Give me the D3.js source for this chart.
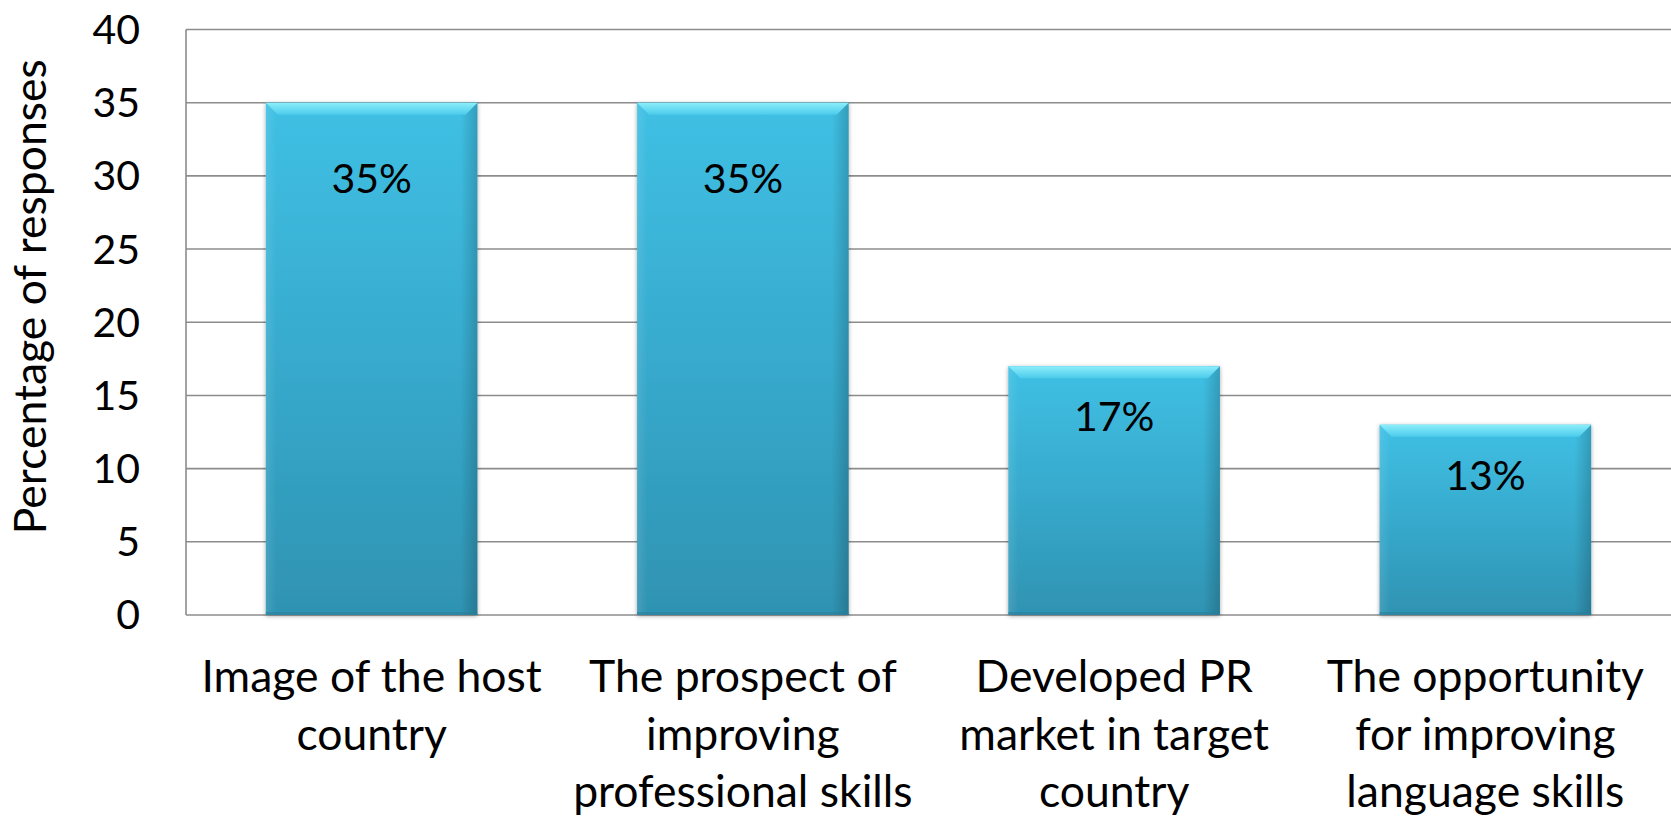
<!DOCTYPE html>
<html>
<head>
<meta charset="utf-8">
<script src="https://cdn.jsdelivr.net/npm/d3@7/dist/d3.min.js"></script>
<style>
  html, body { margin: 0; padding: 0; background: #ffffff; }
  svg { display: block; }
  text { font-family: Lato, "Open Sans", sans-serif; fill: #000; }
</style>
</head>
<body>
<svg id="chart" width="1671" height="817"></svg>
<script>
// ---- data ----
const categories = [
  ["Image of the host", "country"],
  ["The prospect of", "improving", "professional skills"],
  ["Developed PR", "market in target", "country"],
  ["The opportunity", "for improving", "language skills"]
];
const values = [35, 35, 17, 13];
const valueLabels = ["35%", "35%", "17%", "13%"];
const yTicks = [0, 5, 10, 15, 20, 25, 30, 35, 40];
const yTitle = "Percentage of responses";

// ---- layout ----
const W = 1671, H = 817;
const plot = { left: 186, right: 1671, top: 29.5, bottom: 615 };
const fontSize = 41;
const textFontSize = 44.5;
const labelDy = [90, 90, 65, 65]; // baseline offset of the value label below bar top

const svg = d3.select("#chart");
const defs = svg.append("defs");

const grad = defs.append("linearGradient").attr("id", "barGrad")
  .attr("x1", 0).attr("y1", 0).attr("x2", 0).attr("y2", 1);
grad.append("stop").attr("offset", "0%").attr("stop-color", "#3fc0e4");
grad.append("stop").attr("offset", "50%").attr("stop-color", "#37aacd");
grad.append("stop").attr("offset", "100%").attr("stop-color", "#2f93b2");

const gradH = defs.append("linearGradient").attr("id", "barSide")
  .attr("x1", 0).attr("y1", 0).attr("x2", 1).attr("y2", 0);
gradH.append("stop").attr("offset", "0%").attr("stop-color", "#ffffff").attr("stop-opacity", 0.10);
gradH.append("stop").attr("offset", "5%").attr("stop-color", "#ffffff").attr("stop-opacity", 0.0);
gradH.append("stop").attr("offset", "92%").attr("stop-color", "#000000").attr("stop-opacity", 0.0);
gradH.append("stop").attr("offset", "100%").attr("stop-color", "#000000").attr("stop-opacity", 0.18);

const bevel = defs.append("linearGradient").attr("id", "bevelTop")
  .attr("x1", 0).attr("y1", 0).attr("x2", 0).attr("y2", 1);
bevel.append("stop").attr("offset", "0%").attr("stop-color", "#8ceefa");
bevel.append("stop").attr("offset", "100%").attr("stop-color", "#4ccbec");

const shadow = defs.append("filter").attr("id", "shadow")
  .attr("x", "-10%").attr("y", "-10%").attr("width", "120%").attr("height", "120%");
shadow.append("feDropShadow").attr("dx", 0).attr("dy", 1)
  .attr("stdDeviation", 2.2).attr("flood-color", "#000").attr("flood-opacity", 0.35);

const x = d3.scaleBand()
  .domain(d3.range(categories.length))
  .range([plot.left, plot.right])
  .paddingInner(0.43)
  .paddingOuter(0.215);

const y = d3.scaleLinear()
  .domain([0, 40])
  .range([plot.bottom, plot.top]);

// gridlines
const grid = svg.append("g");
grid.selectAll("line").data(yTicks).join("line")
  .attr("x1", plot.left).attr("x2", plot.right)
  .attr("y1", d => y(d)).attr("y2", d => y(d))
  .attr("stroke", "#8c8c8c").attr("stroke-width", 1.6);

// left axis line
svg.append("line")
  .attr("x1", plot.left).attr("x2", plot.left)
  .attr("y1", plot.top).attr("y2", plot.bottom)
  .attr("stroke", "#8c8c8c").attr("stroke-width", 1.6);

// y axis tick labels via d3 axis
const yAxis = d3.axisLeft(y).tickValues(yTicks).tickSize(0).tickPadding(46);
const yg = svg.append("g").attr("transform", `translate(${plot.left},0)`).call(yAxis);
yg.select(".domain").remove();
yg.selectAll("text")
  .attr("font-size", fontSize)
  .attr("font-family", "Lato, 'Open Sans', sans-serif")
  .attr("fill", "#000")
  .attr("dy", "0.34em");

// y axis title
svg.append("text")
  .attr("transform", `translate(46, ${(61.7 + 531.7) / 2}) rotate(-90)`)
  .attr("text-anchor", "middle")
  .attr("font-size", textFontSize)
  .text(yTitle);

// bars
const bars = svg.append("g").selectAll("g").data(values).join("g");
bars.append("rect")
  .attr("x", (d, i) => x(i)).attr("width", x.bandwidth())
  .attr("y", d => y(d)).attr("height", d => y(0) - y(d))
  .attr("fill", "url(#barGrad)")
  .attr("filter", "url(#shadow)");
bars.append("rect")
  .attr("x", (d, i) => x(i)).attr("width", x.bandwidth())
  .attr("y", d => y(d)).attr("height", d => y(0) - y(d))
  .attr("fill", "url(#barSide)");
// top bevel (trapezoid)
bars.append("path")
  .attr("d", (d, i) => {
    const x0 = x(i), x1 = x(i) + x.bandwidth(), t = y(d), b = 12;
    return `M${x0},${t} L${x1},${t} L${x1 - b},${t + b} L${x0 + b},${t + b} Z`;
  })
  .attr("fill", "url(#bevelTop)");
// bottom dark edge
bars.append("rect")
  .attr("x", (d, i) => x(i)).attr("width", x.bandwidth())
  .attr("y", y(0) - 3).attr("height", 3)
  .attr("fill", "#2a7f9b").attr("opacity", 0.6);

// value labels
bars.append("text")
  .attr("x", (d, i) => x(i) + x.bandwidth() / 2)
  .attr("y", (d, i) => y(d) + labelDy[i])
  .attr("text-anchor", "middle")
  .attr("font-size", fontSize)
  .text((d, i) => valueLabels[i]);

// category labels
const cats = svg.append("g").selectAll("text").data(categories).join("text")
  .attr("x", (d, i) => x(i) + x.bandwidth() / 2)
  .attr("y", 692)
  .attr("text-anchor", "middle")
  .attr("font-size", textFontSize);
cats.selectAll("tspan").data(d => d).join("tspan")
  .attr("x", function () { return d3.select(this.parentNode).attr("x"); })
  .attr("dy", (d, j) => j === 0 ? 0 : 57.5)
  .text(d => d);
</script>
</body>
</html>
